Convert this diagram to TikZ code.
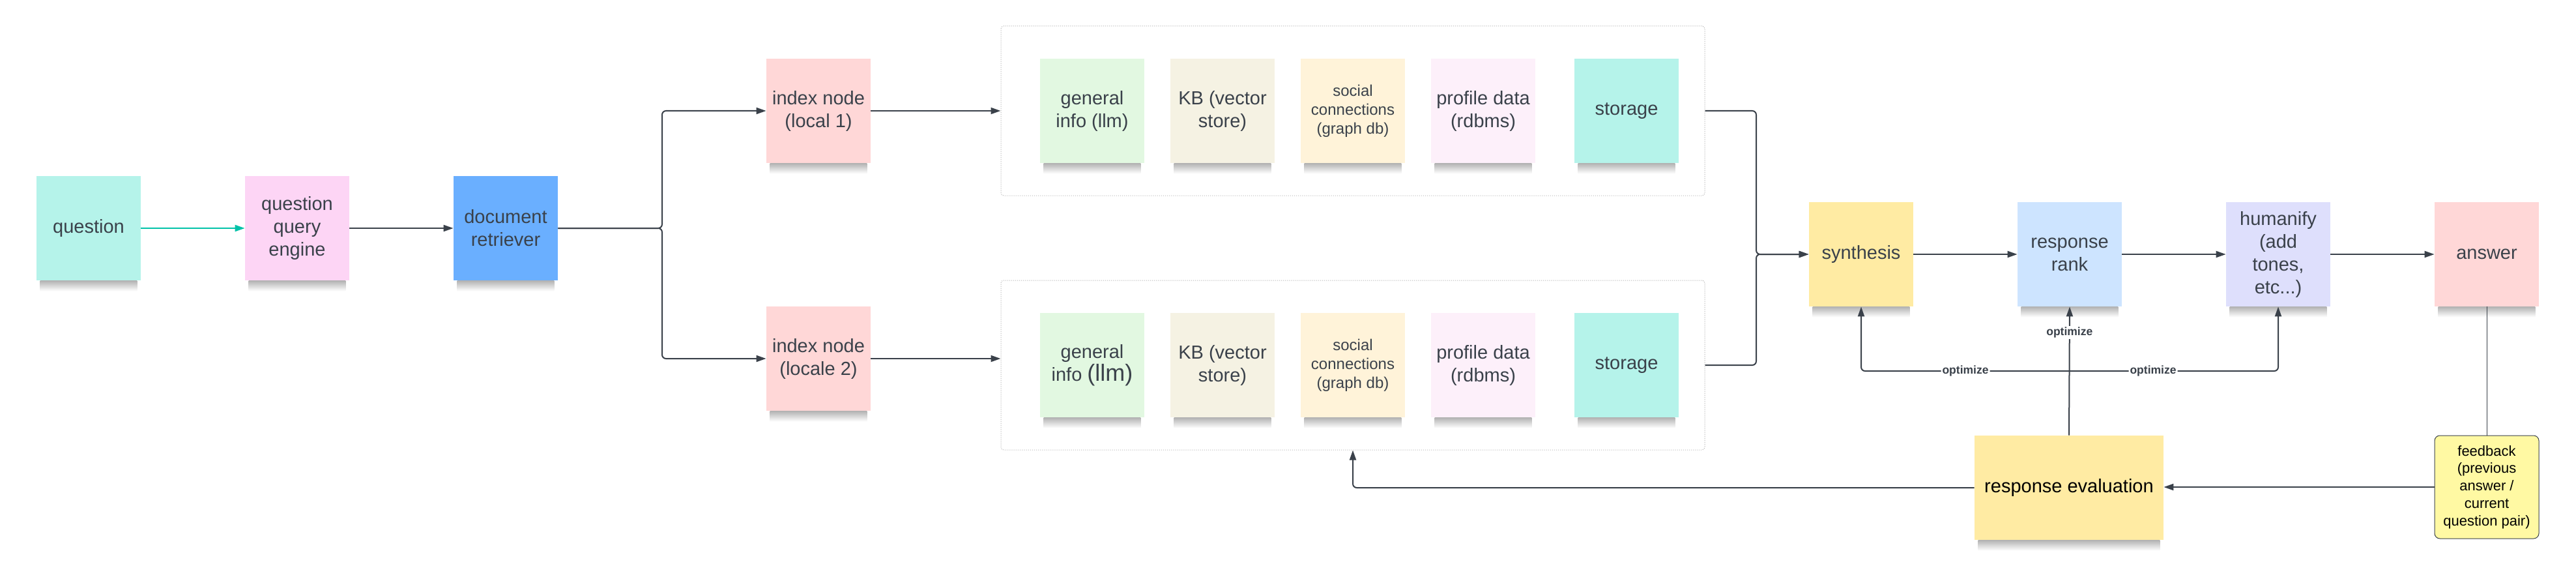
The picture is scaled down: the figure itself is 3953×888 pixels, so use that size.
\documentclass[tikz,border=0pt]{standalone}
\usepackage{fontspec}
\setmainfont{Liberation Sans}
\usetikzlibrary{arrows.meta, backgrounds}

\definecolor{ink}{HTML}{3A414A}
\definecolor{cteal}{HTML}{00C2A8}
\definecolor{cgrid}{HTML}{B8B8B8}
\definecolor{cques}{HTML}{B5F3EA}
\definecolor{cqeng}{HTML}{FDD5F5}
\definecolor{cret}{HTML}{6AAFFF}
\definecolor{cidx}{HTML}{FFD7D7}
\definecolor{cgen}{HTML}{E2F8E1}
\definecolor{ckb}{HTML}{F5F2E3}
\definecolor{csoc}{HTML}{FFF3D9}
\definecolor{cprof}{HTML}{FDF0FA}
\definecolor{csyn}{HTML}{FFEBA3}
\definecolor{crank}{HTML}{CDE4FF}
\definecolor{chum}{HTML}{DEDFFC}
\definecolor{cfb}{HTML}{FFF9A3}

\tikzset{
  note/.style={minimum width=80pt, minimum height=80pt, inner sep=2pt,
    align=center, text=ink, font=\fontsize{14.5}{17.5}\selectfont},
  smalltext/.style={font=\fontsize{12}{14.5}\selectfont},
  group/.style={draw=cgrid, line width=0.5pt, dash pattern=on 0.6pt off 0.9pt,
    rounded corners=2pt, minimum width=540pt, minimum height=130pt},
  link/.style={ink, line width=1pt, -{Triangle[length=7.5pt, width=5pt]}},
  lab/.style={fill=white, inner sep=1pt, text=ink,
    font=\bfseries\fontsize{8.75}{10}\selectfont}
}

\begin{document}
\begin{tikzpicture}[x=0.5pt, y=-0.5pt]
% 0. 画布大小
\useasboundingbox (0,0) rectangle (3953,888);

% 1. 左边的三个便签
\node[note, fill=cques] (q) at (136,350) {question};
\node[note, fill=cqeng] (qe) at (456,350) {question\\query\\engine};
\node[note, fill=cret] (dr) at (776,350) {document\\retriever};

% 2. 两个索引节点
\node[note, fill=cidx] (idx1) at (1256,170) {index node\\(local 1)};
\node[note, fill=cidx] (idx2) at (1256,550) {index node\\(locale 2)};

% 3. 两个虚线框和里面的存储
\node[group] (box1) at (2076,170) {};
\node[group] (box2) at (2076,560) {};
\node[note, fill=cgen] (gi1) at (1676,170) {general\\info (llm)};
\node[note, fill=cgen] (gi2) at (1676,560) {general\\info {\fontsize{18}{20}\selectfont(llm)}};
\foreach \r/\y in {1/170, 2/560}
    {\node[note, fill=ckb] (kb\r) at (1876,\y) {KB (vector\\store)};
     \node[note, fill=csoc, smalltext] (sc\r) at (2076,\y) {social\\connections\\(graph db)};
     \node[note, fill=cprof] (pd\r) at (2276,\y) {profile data\\(rdbms)};
     \node[note, fill=cques] (st\r) at (2496,\y) {storage};
    }

% 4. 右边的流程
\node[note, fill=csyn] (syn) at (2856,390) {synthesis};
\node[note, fill=crank] (rank) at (3176,390) {response\\rank};
\node[note, fill=chum] (hum) at (3496,390) {humanify\\(add\\tones,\\etc...)};
\node[note, fill=cidx] (ans) at (3816,390) {answer};
\node[note, fill=csyn, text=black, minimum width=145pt] (reval) at (3175,748) {response evaluation};
\node[note, smalltext, fill=cfb, draw=ink, line width=0.5pt, rounded corners=4pt,
      text=black, minimum height=79pt, font=\fontsize{11}{13.4}\selectfont] (fb) at (3816,747)
      {feedback\\(previous\\answer /\\current\\question pair)};

% 5. 便签下面的阴影
\begin{scope}[on background layer]
\foreach \n in {q, qe, dr, idx1, idx2, gi1, kb1, sc1, pd1, st1, gi2, kb2, sc2, pd2, st2,
                syn, rank, hum, ans, reval}
    {\shade[top color=black!30, bottom color=white]
        ([xshift=3pt]\n.south west) rectangle ([xshift=-3pt, yshift=-8pt]\n.south east);
    }
\end{scope}

% 6. 连线
\coordinate (split) at (1016,350);
\coordinate (merge) at (2695,390);
\coordinate (opt) at (3176,569);

\draw[link, cteal] (q) -- (qe);
\draw[link] (qe) -- (dr);
\draw[link, rounded corners=3pt] (dr.east) -- (split) |- (idx1.west);
\draw[link, rounded corners=3pt] (dr.east) -- (split) |- (idx2.west);
\draw[link] (idx1.east) -- (box1.west);
\draw[link] (idx2.east) -- (idx2.east -| box2.west);
\draw[link, rounded corners=3pt] (box1.east) -| (merge) -- (syn.west);
\draw[link, rounded corners=3pt] (box2.east) -| (merge) -- (syn.west);
\draw[link] (syn) -- (rank);
\draw[link] (rank) -- (hum);
\draw[link] (hum) -- (ans);
\draw[ink, line width=0.5pt] (ans.south) -- (fb.north);
\draw[link] (fb.west) -- (fb.west -| reval.east);
\draw[link, rounded corners=3pt] (reval.west) -| (box2.south);
\draw[link] (reval.north) -- node[lab, pos=0.8] {optimize} (rank.south);
\draw[link, rounded corners=3pt] (opt) -| node[lab, pos=0.25] {optimize} (syn.south);
\draw[link, rounded corners=3pt] (opt) -| node[lab, pos=0.2] {optimize} (hum.south);
\end{tikzpicture}
\end{document}
